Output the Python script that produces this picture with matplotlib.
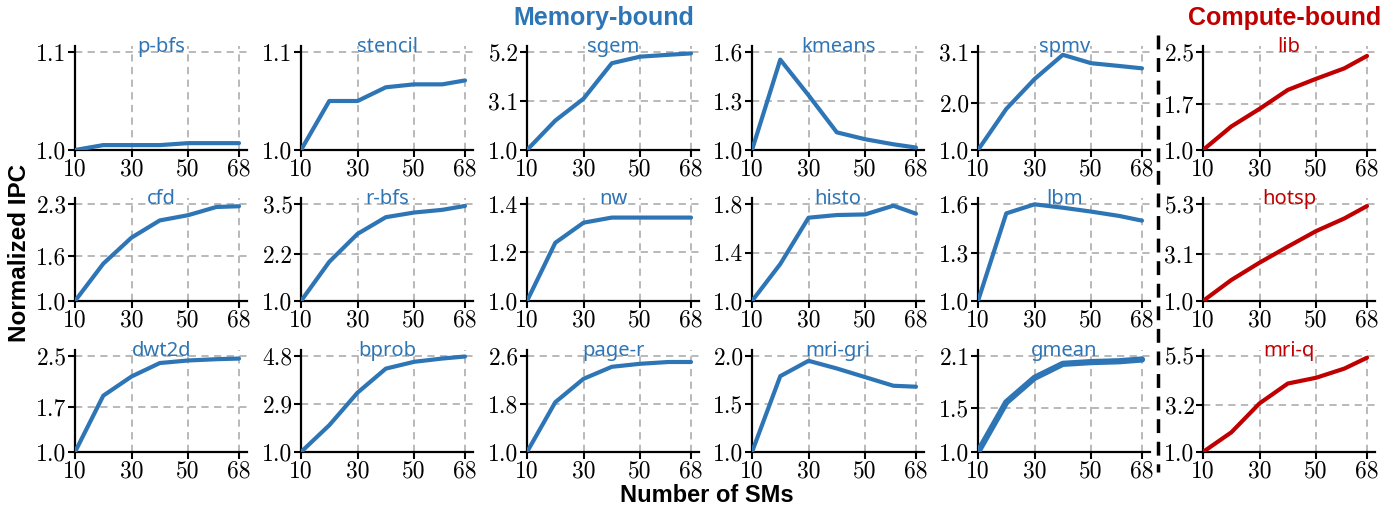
import numpy as np
import matplotlib
matplotlib.use("Agg")
import matplotlib.pyplot as plt
from matplotlib.transforms import blended_transform_factory

# number of SMs
sms = [10, 20, 30, 40, 50, 60, 68]

# benchmark names, row by row
names = [["p-bfs", "stencil", "sgem", "kmeans", "spmv", "lib"],
         ["cfd", "r-bfs", "nw", "histo", "lbm", "hotsp"],
         ["dwt2d", "bprob", "page-r", "mri-gri", "gmean", "mri-q"]]

# normalized IPC for each benchmark
ipc = {
    "p-bfs":   [1.0, 1.005, 1.005, 1.005, 1.007, 1.007, 1.007],
    "stencil": [1.0, 1.05, 1.05, 1.064, 1.067, 1.067, 1.071],
    "sgem":    [1.0, 2.26, 3.2, 4.72, 5.0, 5.08, 5.14],
    "kmeans":  [1.0, 1.553, 1.335, 1.108, 1.066, 1.035, 1.015],
    "spmv":    [1.0, 1.88, 2.52, 3.04, 2.86, 2.80, 2.75],
    "lib":     [1.0, 1.36, 1.63, 1.92, 2.09, 2.25, 2.44],
    "cfd":     [1.0, 1.50, 1.85, 2.08, 2.15, 2.26, 2.27],
    "r-bfs":   [1.0, 2.01, 2.73, 3.16, 3.28, 3.35, 3.45],
    "nw":      [1.0, 1.24, 1.323, 1.344, 1.344, 1.344, 1.344],
    "histo":   [1.0, 1.305, 1.687, 1.709, 1.714, 1.786, 1.72],
    "lbm":     [1.0, 1.542, 1.598, 1.577, 1.553, 1.526, 1.497],
    "hotsp":   [1.0, 1.93, 2.70, 3.41, 4.10, 4.66, 5.21],
    "dwt2d":   [1.0, 1.88, 2.18, 2.39, 2.43, 2.45, 2.46],
    "bprob":   [1.0, 2.06, 3.35, 4.30, 4.57, 4.70, 4.78],
    "page-r":  [1.0, 1.83, 2.22, 2.42, 2.47, 2.50, 2.50],
    "mri-gri": [1.0, 1.79, 1.95, 1.87, 1.78, 1.69, 1.68],
    "gmean":   [1.0, 1.57, 1.85, 2.01, 2.03, 2.04, 2.06],
    "mri-q":   [1.0, 1.92, 3.28, 4.21, 4.48, 4.91, 5.42],
}

# y tick values for each benchmark
yticks = {
    "p-bfs": [1.0, 1.1], "stencil": [1.0, 1.1], "sgem": [1.0, 3.1, 5.2],
    "kmeans": [1.0, 1.3, 1.6], "spmv": [1.0, 2.0, 3.1], "lib": [1.0, 1.7, 2.5],
    "cfd": [1.0, 1.6, 2.3], "r-bfs": [1.0, 2.2, 3.5], "nw": [1.0, 1.2, 1.4],
    "histo": [1.0, 1.4, 1.8], "lbm": [1.0, 1.3, 1.6], "hotsp": [1.0, 3.1, 5.3],
    "dwt2d": [1.0, 1.7, 2.5], "bprob": [1.0, 2.9, 4.8], "page-r": [1.0, 1.8, 2.6],
    "mri-gri": [1.0, 1.5, 2.0], "gmean": [1.0, 1.5, 2.1], "mri-q": [1.0, 3.2, 5.5],
}

xticks = [10, 30, 50, 68]

blue = "#2e75b6"
red = "#c00000"

W, H = 1400, 512
fig = plt.figure(figsize=(W / 100, H / 100), dpi=100)

col_left = [75, 301, 527, 752, 978, 1203]   # pixel x of SM=10
row_bottom = [150, 301, 452]                 # pixel y of IPC=1.0
row_top = [52, 204, 356]                     # pixel y of top tick
span = 164                                   # pixels from 10 to 68
xmax = 71

for r in range(3):
    for c in range(6):
        name = names[r][c]
        color = red if c == 5 else blue
        w_px = span * (xmax - 10) / 58.0
        h_px = row_bottom[r] - row_top[r]
        ax = fig.add_axes([col_left[c] / W, (H - row_bottom[r]) / H,
                           w_px / W, h_px * 1.06 / H])
        yt = yticks[name]
        lw = 4.5 if name == "gmean" else 3
        ax.plot(sms, ipc[name], color=color, lw=lw, solid_capstyle="round", zorder=3)
        ax.set_xlim(10, xmax)
        ax.set_ylim(1.0, yt[-1] + 0.06 * (yt[-1] - 1.0))
        ax.set_xticks(xticks)
        ax.set_xticklabels([str(t) for t in xticks], fontfamily="cmr10", fontsize=17)
        ax.set_yticks(yt)
        ax.set_yticklabels(["%.1f" % t for t in yt], fontfamily="cmr10", fontsize=17)
        ax.tick_params(length=5, width=1.5, pad=1)
        for s in ["top", "right"]:
            ax.spines[s].set_visible(False)
        for s in ["left", "bottom"]:
            ax.spines[s].set_linewidth(1.6)
        ax.grid(True, ls="--", color="#b3b3b3", lw=1.3, dashes=(4, 3))
        ax.set_axisbelow(True)
        trans = blended_transform_factory(ax.transAxes, ax.transData)
        ax.text(0.5, yt[-1], name, transform=trans, ha="center", va="baseline",
                color=color, fontsize=14.5, family="Noto Sans",
                fontweight="bold" if name == "gmean" else "normal", zorder=4)

# group headers
fig.text(604 / W, 1 - 18 / H, "Memory-bound", ha="center", va="center",
         color=blue, fontsize=18, fontweight="bold", family="Liberation Sans")
fig.text(1285 / W, 1 - 18 / H, "Compute-bound", ha="center", va="center",
         color=red, fontsize=18, fontweight="bold", family="Liberation Sans")

# separator between the two groups
fig.add_artist(plt.Line2D([1158 / W, 1158 / W], [1 - 35 / H, 1 - 472 / H],
                          color="black", lw=2.5, ls=(0, (4, 2.5))))

fig.text(20 / W, 1 - 253 / H, "Normalized IPC", rotation=90, ha="center", va="center",
         fontsize=17.5, fontweight="bold", family="Liberation Sans")
fig.text(707 / W, 1 - 495 / H, "Number of SMs", ha="center", va="center",
         fontsize=17, fontweight="bold", family="Liberation Sans")

fig.savefig("out.png", dpi=100)
